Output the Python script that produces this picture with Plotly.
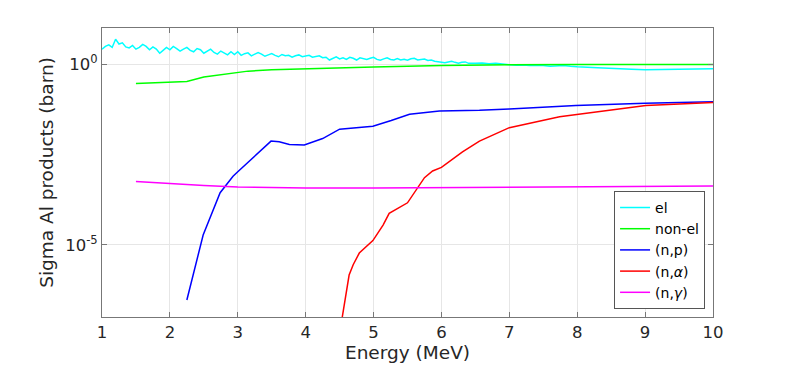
import numpy as np
import plotly.graph_objects as go

# ---- data ----
el_energy_grid = np.round(np.arange(1.0, 6.501, 0.05), 2).tolist()
el_values_grid = [
    2.6, 3.1, 3.4, 2.9, 4.9, 3.6, 3.9, 3.0, 2.8, 3.3,
    2.6, 2.9, 3.5, 3.1, 2.5, 3.0, 2.6, 2.0, 2.4, 2.9,
    2.5, 3.1, 2.7, 2.3, 2.6, 2.9, 2.4, 2.2, 2.7, 2.5,
    2.0, 2.3, 2.6, 2.1, 1.9, 2.3, 2.0, 1.8, 2.2, 1.85,
    2.2, 1.75, 1.95, 2.05, 1.7, 1.85, 2.1, 1.9, 1.65, 1.8,
    1.95, 1.75, 1.6, 1.85, 1.7, 1.75, 1.55, 1.7, 1.8, 1.6,
    1.65, 1.75, 1.55, 1.6, 1.7, 1.5, 1.55, 1.3, 1.45, 1.6,
    1.4, 1.5, 1.35, 1.55, 1.45, 1.3, 1.5, 1.4, 1.35, 1.45,
    1.55, 1.35, 1.28, 1.4, 1.5, 1.35, 1.3, 1.42, 1.3, 1.36,
    1.28, 1.4, 1.45, 1.3, 1.33, 1.38, 1.26, 1.3, 1.2, 1.16,
    1.14, 1.1, 1.15, 1.2, 1.12, 1.06, 1.12, 1.15, 1.05, 1.08,
    1.06,
]
el_energy_tail = [6.6, 6.7, 6.8, 6.9, 7.0, 7.1, 7.2, 7.3, 7.4, 7.5, 7.6, 7.7, 7.8, 7.9,
                  8.0, 8.3, 8.6, 8.8, 9.0, 9.3, 9.6, 10.0]
el_values_tail = [1.08, 1.02, 1.05, 0.99, 0.96, 0.93, 0.95, 0.91, 0.93, 0.92, 0.88, 0.90,
                  0.91, 0.87, 0.84, 0.80, 0.74, 0.72, 0.70, 0.72, 0.73, 0.74]
el_energy = el_energy_grid + el_energy_tail
el_values = el_values_grid + el_values_tail

nonel_energy = [1.5, 2.25, 2.5, 3.0, 3.15, 3.5, 4.0, 5.0, 6.0, 6.5, 7.0, 8.0, 9.0, 10.0]
nonel_values = [0.29, 0.33, 0.44, 0.58, 0.64, 0.70, 0.75, 0.83, 0.92, 0.95, 0.96, 0.97, 0.97, 0.97]

np_energy = [2.25, 2.49, 2.74, 2.93, 3.0, 3.49, 3.61, 3.76, 3.98, 4.25, 4.5, 4.99,
             5.26, 5.53, 5.97, 6.56, 7.0, 7.98, 9.0, 10.0]
np_values = [2.95e-7, 1.86e-5, 2.75e-4, 7.9e-4, 1.05e-3, 7.4e-3, 7.1e-3, 6.0e-3, 5.75e-3,
             8.7e-3, 1.58e-2, 1.9e-2, 2.75e-2, 4.1e-2, 5.0e-2, 5.25e-2, 5.75e-2, 7.2e-2,
             8.3e-2, 9.1e-2]

na_energy = [4.52, 4.64, 4.70, 4.79, 4.99, 5.14, 5.23, 5.50, 5.75, 5.87, 6.0, 6.31,
             6.56, 7.0, 7.74, 8.03, 9.01, 10.0]
na_values = [6e-8, 1.45e-6, 2.8e-6, 5.9e-6, 1.3e-5, 3.5e-5, 7.4e-5, 1.45e-4, 7.2e-4,
             1.1e-3, 1.38e-3, 3.7e-3, 7.4e-3, 1.74e-2, 3.5e-2, 4.1e-2, 7.1e-2, 8.7e-2]

ng_energy = [1.5, 2.0, 2.5, 3.0, 3.5, 4.0, 5.0, 6.0, 7.0, 8.0, 9.0, 10.0]
ng_values = [5.6e-4, 4.9e-4, 4.4e-4, 4.0e-4, 3.8e-4, 3.7e-4, 3.75e-4, 3.8e-4, 3.85e-4,
             3.9e-4, 4.0e-4, 4.2e-4]

x_ticks = list(range(1, 11))
y_tickvals = [1e0, 1e-5]
y_ticktext = ["10<sup>0</sup>", "10<sup>-5</sup>"]

FONT = "DejaVu Sans"
series = [
    ("el", el_energy, el_values, "#00FFFF"),
    ("non-el", nonel_energy, nonel_values, "#00FF00"),
    ("(n,p)", np_energy, np_values, "#0000FF"),
    ("(n,<i>α</i>)", na_energy, na_values, "#FF0000"),
    ("(n,<i>γ</i>)", ng_energy, ng_values, "#FF00FF"),
]

fig = go.Figure()
for name, xs, ys, col in series:
    fig.add_trace(go.Scatter(x=xs, y=ys, mode="lines", name=name,
                             line=dict(color=col, width=1.5)))

axis_common = dict(showline=True, linecolor="#777777", linewidth=1, mirror="allticks",
                   ticks="inside", ticklen=5, tickcolor="#777777",
                   showgrid=True, gridcolor="#e6e6e6", gridwidth=1, zeroline=False,
                   tickfont=dict(family=FONT, size=16.5, color="#262626"))

fig.update_xaxes(range=[1, 10], tickvals=x_ticks,
                 title=dict(text="Energy (MeV)", font=dict(family=FONT, size=18.5, color="#262626"),
                            standoff=4),
                 **axis_common)
fig.update_yaxes(type="log", range=[-7, 1], tickvals=y_tickvals, ticktext=y_ticktext,
                 title=dict(text="Sigma Al products (barn)",
                            font=dict(family=FONT, size=18.5, color="#262626"), standoff=6),
                 **axis_common)

fig.update_layout(
    width=789, height=375,
    margin=dict(l=94, r=84, t=20, b=66),
    paper_bgcolor="white", plot_bgcolor="white",
    showlegend=True,
    legend=dict(x=0.987, y=0.028, xanchor="right", yanchor="bottom",
                bgcolor="white", bordercolor="#555555", borderwidth=1,
                font=dict(family=FONT, size=14, color="#000000"),
                tracegroupgap=0, itemwidth=30),
)

fig.write_html("out.html")
